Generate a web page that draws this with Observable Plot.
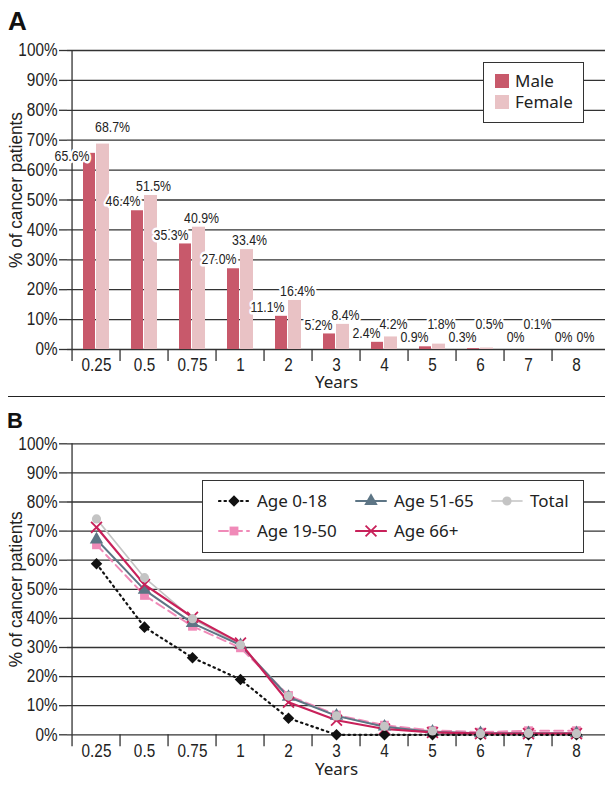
<!DOCTYPE html>
<html><head><meta charset="utf-8">
<script src="https://cdn.jsdelivr.net/npm/d3@7"></script>
<script src="https://cdn.jsdelivr.net/npm/@observablehq/plot@0.6"></script>
<style>
body{margin:0;background:#fff;}
#wrap{position:relative;width:605px;height:789px;overflow:hidden;background:#fff;}
.abs{position:absolute;}
.letter{position:absolute;font-family:"Liberation Sans",Arial,sans-serif;font-weight:bold;color:#111;line-height:1;}
.box{position:absolute;box-sizing:border-box;background:#fff;border:1.5px solid #333;}
.lt{position:absolute;font-family:"Noto Sans","Open Sans",sans-serif;color:#222;white-space:nowrap;height:22px;line-height:22px;}
</style></head>
<body><div id="wrap"></div>
<script>
// ---------- data ----------
const years = ["0.25","0.5","0.75","1","2","3","4","5","6","7","8"];
const maleRemission   = [65.6,46.4,35.3,27.0,11.1,5.2,2.4,0.9,0.3,0,0];
const femaleRemission = [68.7,51.5,40.9,33.4,16.4,8.4,4.2,1.8,0.5,0.1,0];
const age0to18  = [58.8,37.0,26.5,19.0,5.7,0,0,0,0,0,0];
const age19to50 = [65.3,47.9,37.3,29.9,13.5,6.8,3.3,1.5,0.9,1.4,1.4];
const age51to65 = [67.1,49.8,38.4,30.8,13.0,6.5,2.8,1.0,0.5,0.5,0.5];
const age66plus = [71.3,51.6,40.4,31.5,11.2,5.0,2.0,0.8,0.4,0.4,0.4];
const totalAll  = [74.2,54.0,39.9,30.9,13.3,6.5,2.9,1.3,0.4,0.5,0.4];
const yTicks = [0,10,20,30,40,50,60,70,80,90,100];
const sexNames = ["Male","Female"];
const seriesNames = ["Age 0-18","Age 19-50","Age 51-65","Age 66+","Total"];
const yTitle = "% of cancer patients", xTitle = "Years";

// ---------- styles ----------
const maleColor = "#c8596b", femaleColor = "#e9c2c5";
const styleB = {
  "Age 0-18":  {stroke:"#111", dash:"1.5,4", width:2.2, symbol:"diamond2", fill:"#111", r:5.2},
  "Age 19-50": {stroke:"#f08ab8", dash:"9,5", width:2, symbol:"square", fill:"#f08ab8", r:5},
  "Age 51-65": {stroke:"#5d7585", dash:null, width:2, symbol:"triangle", fill:"#5d7585", r:5},
  "Age 66+":   {stroke:"#c8215a", dash:null, width:2.2, symbol:"times", fill:"none", r:5},
  "Total":     {stroke:"#c4c4c4", dash:null, width:1.6, symbol:"circle", fill:"#c4c4c4", r:4.6}
};
const W = 605, ML = 67;
const bw = (W - ML) / years.length;
const fmt = v => v === 0 ? "0%" : v.toFixed(1) + "%";
const wrap = document.getElementById("wrap");
const gridCol = "#333";
const plotStyle = {background: "transparent", color: "#222", fontFamily: '"Liberation Sans",Arial,sans-serif'};

// condense text horizontally to mimic a narrow typeface
function condense(root) {
  root.querySelectorAll("text").forEach(t => {
    const s = t.textContent;
    if (s === xTitle) return;
    const f = s === yTitle ? 0.93 : 0.85;
    const L = t.getComputedTextLength();
    if (L > 0) { t.setAttribute("textLength", L * f); t.setAttribute("lengthAdjust", "spacingAndGlyphs"); }
  });
}

// ---------- Panel A ----------
const rowsA = years.map((y,i) => ({year:y, male:maleRemission[i], female:femaleRemission[i], i}));
const first = rowsA.filter(d => d.i === 0), rest = rowsA.filter(d => d.i > 0);
const txtA = {fill:"#222", stroke:"white", strokeWidth:5, strokeLinejoin:"round", fontSize:14.5};
const plotA = Plot.plot({
  width: W, height: 396, marginTop: 50, marginBottom: 47, marginLeft: ML, marginRight: 0,
  x: {domain: years, type: "band", padding: 0, axis: null},
  y: {domain: [0,100], axis: null},
  style: plotStyle,
  marks: [
    Plot.gridY(yTicks, {stroke: gridCol, strokeOpacity: 1, strokeWidth: 1.3}),
    Plot.axisY(yTicks, {label: null, tickSize: 8, tickPadding: 2, tickFormat: d => d + "%", fontSize: 18, stroke: gridCol, strokeWidth: 1.3}),
    Plot.ruleX([years[0]], {dx: -bw/2, stroke: gridCol, strokeWidth: 1.3}),
    Plot.axisX({label: null, tickSize: 12, dx: -bw/2, tickFormat: () => "", stroke: gridCol, strokeWidth: 1.3}),
    Plot.axisX({label: null, tickSize: 0, tickPadding: 9, fontSize: 18}),
    Plot.barY(rowsA, {x: "year", y: "male", fill: maleColor, insetLeft: 11, insetRight: 25}),
    Plot.barY(rowsA, {x: "year", y: "female", fill: femaleColor, insetLeft: 24, insetRight: 11}),
    Plot.text(rest, {x: "year", y: d => Math.max(d.male, 1.1), text: d => fmt(d.male), textAnchor: "end", dx: -4, dy: -9, ...txtA}),
    Plot.text(first, {x: "year", y: "male", text: d => fmt(d.male), textAnchor: "end", dx: -7, dy: 3, ...txtA}),
    Plot.text(rest, {x: "year", y: d => d.female === 0 ? 1.1 : Math.max(d.female, 5.35), text: d => fmt(d.female), textAnchor: "middle", dx: 9, dy: -9, ...txtA}),
    Plot.text(first, {x: "year", y: "female", text: d => fmt(d.female), textAnchor: "middle", dx: 16, dy: -17, ...txtA}),
    Plot.text([yTitle], {frameAnchor: "left", textAnchor: "middle", lineAnchor: "middle", rotate: -90, dx: -51, dy: -10, fontSize: 18.5, fill: "#222"}),
    Plot.text([xTitle], {frameAnchor: "bottom", textAnchor: "middle", lineAnchor: "middle", dy: 33, fontSize: 17, fill: "#222", fontFamily: "Noto Sans"})
  ]
});
plotA.style.position = "absolute"; plotA.style.left = "0px"; plotA.style.top = "0px";
wrap.appendChild(plotA);
condense(plotA);

// ---------- Panel B ----------
const valuesB = {"Age 0-18": age0to18, "Age 19-50": age19to50, "Age 51-65": age51to65, "Age 66+": age66plus, "Total": totalAll};
const longB = seriesNames.flatMap(s => years.map((y,i) => ({series: s, year: y, value: valuesB[s][i]})));
const lineOrder = ["Total","Age 19-50","Age 51-65","Age 66+","Age 0-18"];
const dotOrder = ["Age 19-50","Age 51-65","Age 66+","Age 0-18","Total"];
const lineMarks = lineOrder.map(s => Plot.line(longB.filter(d => d.series === s), {
  x: "year", y: "value", stroke: styleB[s].stroke, strokeWidth: styleB[s].width,
  strokeDasharray: styleB[s].dash, strokeLinecap: "round"}));
const dotMarks = dotOrder.map(s => Plot.dot(longB.filter(d => d.series === s), {
  x: "year", y: "value", symbol: () => styleB[s].symbol, r: styleB[s].r,
  fill: styleB[s].fill, stroke: styleB[s].symbol === "times" ? styleB[s].stroke : "none",
  strokeWidth: 1.8}));
const plotB = Plot.plot({
  width: W, height: 399, marginTop: 53.3, marginBottom: 54.7, marginLeft: ML, marginRight: 0,
  x: {domain: years, type: "point", padding: 0.5, axis: null},
  y: {domain: [0,100], axis: null},
  symbol: {type: "identity"},
  style: plotStyle,
  marks: [
    Plot.gridY(yTicks, {stroke: gridCol, strokeOpacity: 1, strokeWidth: 1.3}),
    Plot.axisY(yTicks, {label: null, tickSize: 8, tickPadding: 2, tickFormat: d => d + "%", fontSize: 18, stroke: gridCol, strokeWidth: 1.3}),
    Plot.ruleX([years[0]], {dx: -bw/2, stroke: gridCol, strokeWidth: 1.3}),
    Plot.axisX({label: null, tickSize: 12, dx: -bw/2, tickFormat: () => "", stroke: gridCol, strokeWidth: 1.3}),
    Plot.axisX({label: null, tickSize: 0, tickPadding: 9, fontSize: 18}),
    ...lineMarks,
    ...dotMarks,
    Plot.text([yTitle], {frameAnchor: "left", textAnchor: "middle", lineAnchor: "middle", rotate: -90, dx: -51, dy: 0, fontSize: 18.5, fill: "#222"}),
    Plot.text([xTitle], {frameAnchor: "bottom", textAnchor: "middle", lineAnchor: "middle", dy: 35, fontSize: 17, fill: "#222", fontFamily: "Noto Sans"})
  ]
});
plotB.style.position = "absolute"; plotB.style.left = "0px"; plotB.style.top = "390px";
wrap.appendChild(plotB);
condense(plotB);

// ---------- decorations: panel letters, divider ----------
function addDiv(cls, css, text) {
  const d = document.createElement("div"); d.className = cls;
  Object.assign(d.style, css); if (text != null) d.textContent = text;
  wrap.appendChild(d); return d;
}
addDiv("letter", {left: "8px", top: "8px", fontSize: "26px"}, "A");
addDiv("letter", {left: "7px", top: "410px", fontSize: "22px"}, "B");
addDiv("abs", {left: "8px", top: "396px", width: "597px", height: "0", borderTop: "1.5px solid #222"});

// ---------- legend A ----------
addDiv("box", {left: "483px", top: "62px", width: "101px", height: "61px"});
[maleColor, femaleColor].forEach((c, i) => {
  addDiv("abs", {left: "495px", top: (74 + 21*i) + "px", width: "14px", height: "14px", background: c});
  addDiv("lt", {left: "515px", top: (70 + 21*i) + "px", fontSize: "17px"}, sexNames[i]);
});

// ---------- legend B ----------
addDiv("box", {left: "202px", top: "480px", width: "382px", height: "73px"});
const legPos = {
  "Age 0-18":  {sx: 218, tx: 257, cy: 501},
  "Age 19-50": {sx: 218, tx: 257, cy: 531},
  "Age 51-65": {sx: 355, tx: 394, cy: 501},
  "Age 66+":   {sx: 355, tx: 394, cy: 531},
  "Total":     {sx: 491, tx: 530, cy: 501}
};
const symMap = {diamond2: d3.symbolDiamond2, square: d3.symbolSquare, triangle: d3.symbolTriangle, times: d3.symbolTimes, circle: d3.symbolCircle};
seriesNames.forEach(s => {
  const st = styleB[s], p = legPos[s];
  const sw = 32, sh = 16;
  const svg = d3.create("svg").attr("width", sw).attr("height", sh)
    .style("position", "absolute").style("left", p.sx + "px").style("top", (p.cy - sh/2) + "px");
  svg.append("line").attr("x1", 1).attr("x2", sw - 1).attr("y1", sh/2).attr("y2", sh/2)
    .attr("stroke", st.stroke).attr("stroke-width", st.width)
    .attr("stroke-dasharray", st.dash).attr("stroke-linecap", "round");
  svg.append("path").attr("transform", `translate(${sw/2},${sh/2})`)
    .attr("d", d3.symbol(symMap[st.symbol], Math.PI * st.r * st.r)())
    .attr("fill", st.fill).attr("stroke", st.symbol === "times" ? st.stroke : "none").attr("stroke-width", 1.8);
  wrap.appendChild(svg.node());
  addDiv("lt", {left: p.tx + "px", top: (p.cy - 11) + "px", fontSize: "17px"}, s);
});
</script>
</body></html>
